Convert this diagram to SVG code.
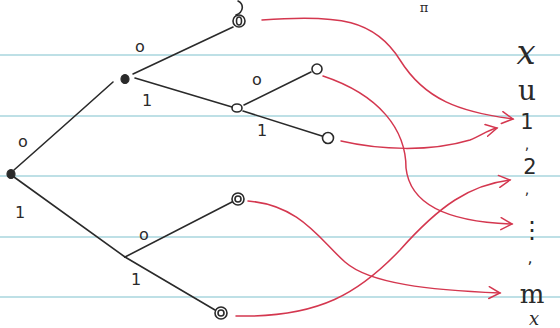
<svg xmlns="http://www.w3.org/2000/svg" width="560" height="328" viewBox="0 0 560 328">
<defs>
<style>
.rule{stroke:#a9d6de;stroke-width:1.3}
.edge{fill:none;stroke:#2a2a2a;stroke-width:1.6;stroke-linecap:round}
.map{fill:none;stroke:#d4374f;stroke-width:1.5;stroke-linecap:round}
.dot{fill:#2a2a2a;stroke:#2a2a2a;stroke-width:1.2}
.ring{fill:none;stroke:#2a2a2a;stroke-width:1.6}
.lbl{font-family:"DejaVu Sans",sans-serif;font-size:16px;fill:#2a2a2a}
.val{font-family:"DejaVu Sans",sans-serif;fill:#2a2a2a}
.sym{font-family:"DejaVu Serif",serif;fill:#2a2a2a}
</style>
<marker id="ah" viewBox="0 0 14 14" refX="12" refY="7" markerWidth="14" markerHeight="14" markerUnits="userSpaceOnUse" orient="auto">
<path d="M1,1 L12,7 L1,13" fill="none" stroke="#d4374f" stroke-width="1.5" stroke-linecap="round"/>
</marker>
</defs>
<rect width="560" height="328" fill="#ffffff"/>
<g id="paper">
<line class="rule" x1="0" y1="55" x2="560" y2="55"/>
<line class="rule" x1="0" y1="116" x2="560" y2="116"/>
<line class="rule" x1="0" y1="176" x2="560" y2="176"/>
<line class="rule" x1="0" y1="237" x2="560" y2="237"/>
<line class="rule" x1="0" y1="297" x2="560" y2="297"/>
</g>
<g id="connectors">
<path class="edge" d="M14,170 Q65,125 113,82"/>
<path class="edge" d="M133,74 L233,27"/>
<path class="edge" d="M135,78 L232,107"/>
<path class="edge" d="M244,105 L311,72"/>
<path class="edge" d="M243,111 L322,136"/>
<path class="edge" d="M14,177 L125,257"/>
<path class="edge" d="M125,257 L232,202"/>
<path class="edge" d="M125,257 L215,310"/>
<path class="map" marker-end="url(#ah)" d="M262,20 C340,14 375,20 400,60 C425,100 460,112 513,119"/>
<path class="map" marker-end="url(#ah)" d="M341,141 C380,150 430,152 470,140 C480,136 488,130 497,128"/>
<path class="map" marker-end="url(#ah)" d="M323,76 C380,95 406,130 406,168 C410,205 450,222 512,224"/>
<path class="map" marker-end="url(#ah)" d="M248,201 C300,205 320,240 345,262 C370,284 430,290 500,293"/>
<path class="map" marker-end="url(#ah)" d="M236,316 C320,318 360,292 400,250 C440,205 470,185 510,180"/>
</g>
<g id="root"><ellipse class="dot" cx="11" cy="174" rx="4" ry="4.5"/></g>
<g id="n0"><ellipse class="dot" cx="125" cy="79" rx="4" ry="4.5"/></g>
<g id="n01"><ellipse class="ring" cx="237" cy="108" rx="5" ry="4"/></g>
<g id="n1"><circle cx="125" cy="257" r="1" fill="#2a2a2a"/></g>
<g id="leaf00"><circle class="ring" cx="239" cy="21" r="6"/><ellipse class="ring" cx="239" cy="21" rx="2.5" ry="4"/><path class="edge" d="M236,15 C244,12 244,4 238,1"/></g>
<g id="leaf010"><circle class="ring" cx="317" cy="69" r="5"/></g>
<g id="leaf011"><circle class="ring" cx="328" cy="138" r="5.5"/></g>
<g id="leaf10"><circle class="ring" cx="238" cy="199" r="6"/><circle class="ring" cx="238" cy="199" r="3"/></g>
<g id="leaf11"><circle class="ring" cx="221" cy="313" r="6"/><circle class="ring" cx="221" cy="313" r="3"/></g>
<g id="labels">
<text class="lbl" x="23" y="147" text-anchor="middle">o</text>
<text class="lbl" x="20" y="218" text-anchor="middle">1</text>
<text class="lbl" x="140" y="52" text-anchor="middle">o</text>
<text class="lbl" x="147" y="106" text-anchor="middle">1</text>
<text class="lbl" x="257" y="85" text-anchor="middle">o</text>
<text class="lbl" x="262" y="136" text-anchor="middle">1</text>
<text class="lbl" x="144" y="240" text-anchor="middle">o</text>
<text class="lbl" x="136" y="285" text-anchor="middle">1</text>
</g>
<g id="values">
<text class="sym" x="424" y="12" font-size="13" text-anchor="middle">π</text>
<text class="sym" x="526" y="64" font-size="34" font-style="italic" text-anchor="middle">x</text>
<text class="sym" x="527" y="100" font-size="28" text-anchor="middle">u</text>
<text class="val" x="527" y="129" font-size="21" text-anchor="middle">1</text>
<text class="val" x="527" y="149" font-size="14" text-anchor="middle">,</text>
<text class="val" x="530" y="174" font-size="21" text-anchor="middle">2</text>
<text class="val" x="527" y="194" font-size="14" text-anchor="middle">,</text>
<text class="val" x="532" y="238" font-size="24" text-anchor="middle">⋮</text>
<text class="val" x="530" y="263" font-size="16" text-anchor="middle">,</text>
<text class="sym" x="532" y="303" font-size="26" text-anchor="middle">m</text>
<text class="sym" x="534" y="325" font-size="18" font-style="italic" text-anchor="middle">x</text>
</g>
</svg>
